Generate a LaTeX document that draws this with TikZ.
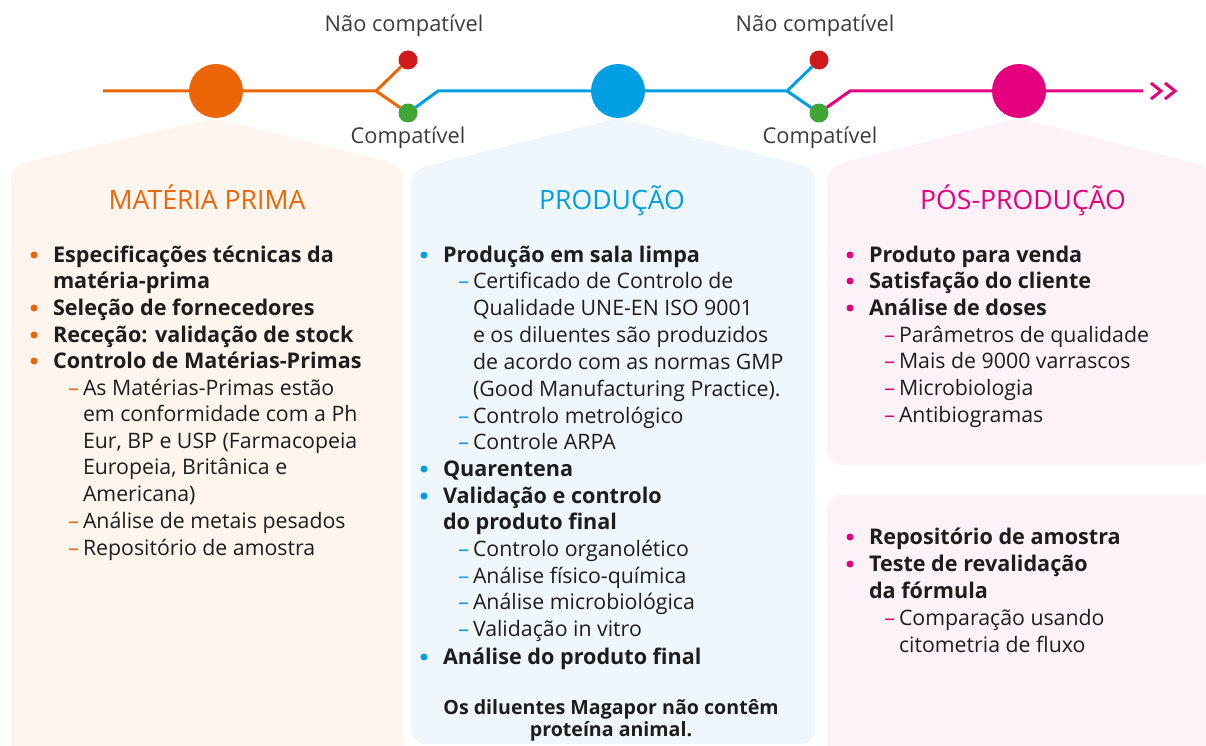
\documentclass[tikz,border=0pt]{standalone}
\usepackage{fontspec}
\setmainfont{Open Sans}
\definecolor{corange}{HTML}{EC6608}
\definecolor{cblue}{HTML}{009FE3}
\definecolor{cpink}{HTML}{E5007D}
\definecolor{cred}{HTML}{D0191C}
\definecolor{cgreen}{HTML}{3FA535}
\definecolor{forange}{HTML}{FEF5EF}
\definecolor{fblue}{HTML}{EFF7FC}
\definecolor{fpink}{HTML}{FDF2F8}
\definecolor{ctext}{HTML}{1D1D1B}
\definecolor{clabel}{HTML}{3C3C3B}
\newcommand\mitem[5]{%
  \node[bdot,fill=#4] (#1b) at (#2-19,#3-7) {};
  \node[mtxt] (#1) at (#2,#3) {#5};}
\newcommand\mcont[4]{\node[mtxt] (#1) at (#2,#3) {#4};}
\newcommand\sitem[5]{%
  \node[dtxt,text=#4] (#1d) at (#2-4,#3) {–};
  \node[stxt] (#1) at (#2,#3) {#5};}
\newcommand\scont[4]{\node[stxt] (#1) at (#2,#3) {#4};}
\begin{document}
\begin{tikzpicture}[x=1pt,y=-1pt,
  every node/.style={inner sep=0pt,outer sep=0pt},
  bdot/.style={circle,minimum size=7pt,draw=none},
  mtxt/.style={anchor=base west,text=ctext,font=\fontsize{21.6}{26}\selectfont\bfseries},
  stxt/.style={anchor=base west,text=ctext,font=\fontsize{21.3}{26}\selectfont},
  dtxt/.style={anchor=base east,font=\fontsize{21.3}{26}\selectfont},
  ttl/.style={anchor=base,font=\fontsize{26.6}{30}\selectfont},
  lbl/.style={anchor=base,text=clabel,font=\fontsize{21.8}{26}\selectfont},
  note/.style={anchor=base,text=ctext,font=\fontsize{19.6}{22}\selectfont\bfseries},
  bigdot/.style={circle,minimum size=54pt,draw=none},
  smalldot/.style={circle,minimum size=19pt,draw=none},
  tl/.style={line width=3pt},
]
\useasboundingbox (0,0) rectangle (1206,746);
\clip (0,0) rectangle (1206,746);
% panels
\fill[forange,rounded corners=14pt] (11,780) -- (11,165) -- (216,118) -- (403,165) -- (403,780) -- cycle;
\fill[fblue,rounded corners=14pt] (411,744) -- (411,170) -- (618,118) -- (815,168) -- (815,744) -- cycle;
\fill[fpink,rounded corners=14pt] (827,465) -- (827,167) -- (1019,118) -- (1211,167) -- (1211,465) -- cycle;
\fill[fpink,rounded corners=14pt] (827,780) -- (827,495) -- (1240,495) -- (1240,780) -- cycle;
% timeline nodes
\node[bigdot,fill=corange] (c1) at (216,91) {};
\node[bigdot,fill=cblue] (c2) at (618,91) {};
\node[bigdot,fill=cpink] (c3) at (1019,91) {};
\node[smalldot,fill=cred] (r1) at (408,60) {};
\node[smalldot,fill=cgreen] (g1) at (408,113) {};
\node[smalldot,fill=cred] (r2) at (819,60) {};
\node[smalldot,fill=cgreen] (g2) at (819,113) {};
\coordinate (s0) at (103,91);
\coordinate (k1) at (376,91);
\coordinate (j1) at (438,91);
\coordinate (k2) at (787,91);
\coordinate (j2) at (850,91);
\coordinate (e3) at (1143,91);
\draw[tl,corange] (s0) -- (c1) -- (k1) -- (r1);
\draw[tl,corange] (k1) -- (g1);
\draw[tl,cblue] (g1) -- (j1) -- (c2) -- (k2) -- (r2);
\draw[tl,cblue] (k2) -- (g2);
\draw[tl,cpink] (g2) -- (j2) -- (c3) -- (e3);
\coordinate (ca1) at (1151,83); \coordinate (cb1) at (1161,91); \coordinate (cc1) at (1151,99);
\coordinate (ca2) at (1165,83); \coordinate (cb2) at (1175,91); \coordinate (cc2) at (1165,99);
\draw[tl,cpink] (ca1) -- (cb1) -- (cc1);
\draw[tl,cpink] (ca2) -- (cb2) -- (cc2);
% labels
\node[lbl] (nc1) at (404,32) {Não compatível};
\node[lbl] (nc2) at (815,32) {Não compatível};
\node[lbl] (cp1) at (408,144) {Compatível};
\node[lbl] (cp2) at (820,144) {Compatível};
% titles
\node[ttl,text=corange] (t1) at (207,209) {MATÉRIA PRIMA};
\node[ttl,text=cblue] (t2) at (612,209) {PRODUÇÃO};
\node[ttl,text=cpink] (t3) at (1023,209) {PÓS-PRODUÇÃO};
% panel 1
\mitem{a1}{53}{262}{corange}{Especificações técnicas da}
\mcont{a2}{53}{288}{matéria-prima}
\mitem{a3}{53}{315}{corange}{Seleção de fornecedores}
\mitem{a4}{53}{342}{corange}{Receção: validação de stock}
\mitem{a5}{53}{368}{corange}{Controlo de Matérias-Primas}
\sitem{a6}{83}{395}{corange}{As Matérias-Primas estão}
\scont{a7}{83}{421}{em conformidade com a Ph}
\scont{a8}{83}{448}{Eur, BP e USP (Farmacopeia}
\scont{a9}{83}{474}{Europeia, Britânica e}
\scont{a10}{83}{501}{Americana)}
\sitem{a11}{83}{528}{corange}{Análise de metais pesados}
\sitem{a12}{83}{555}{corange}{Repositório de amostra}
% panel 2
\mitem{b1}{443}{262}{cblue}{Produção em sala limpa}
\sitem{b2}{473}{288}{cblue}{Certificado de Controlo de}
\scont{b3}{473}{315}{Qualidade UNE-EN ISO 9001}
\scont{b4}{473}{342}{e os diluentes são produzidos}
\scont{b5}{473}{369}{de acordo com as normas GMP}
\scont{b6}{473}{396}{(Good Manufacturing Practice).}
\sitem{b7}{473}{423}{cblue}{Controlo metrológico}
\sitem{b8}{473}{449}{cblue}{Controle ARPA}
\mitem{b9}{443}{476}{cblue}{Quarentena}
\mitem{b10}{443}{503}{cblue}{Validação e controlo}
\mcont{b11}{443}{529}{do produto final}
\sitem{b12}{473}{556}{cblue}{Controlo organolético}
\sitem{b13}{473}{583}{cblue}{Análise físico-química}
\sitem{b14}{473}{609}{cblue}{Análise microbiológica}
\sitem{b15}{473}{636}{cblue}{Validação in vitro}
\mitem{b16}{443}{664}{cblue}{Análise do produto final}
\node[note] (n1) at (611,714) {Os diluentes Magapor não contêm};
\node[note] (n2) at (611,736) {proteína animal.};
% panel 3
\mitem{p1}{869}{262}{cpink}{Produto para venda}
\mitem{p2}{869}{288}{cpink}{Satisfação do cliente}
\mitem{p3}{869}{315}{cpink}{Análise de doses}
\sitem{p4}{899}{342}{cpink}{Parâmetros de qualidade}
\sitem{p5}{899}{368}{cpink}{Mais de 9000 varrascos}
\sitem{p6}{899}{395}{cpink}{Microbiologia}
\sitem{p7}{899}{422}{cpink}{Antibiogramas}
% panel 4
\mitem{q1}{869}{544}{cpink}{Repositório de amostra}
\mitem{q2}{869}{571}{cpink}{Teste de revalidação}
\mcont{q3}{869}{598}{da fórmula}
\sitem{q4}{899}{625}{cpink}{Comparação usando}
\scont{q5}{899}{652}{citometria de fluxo}
\end{tikzpicture}
\end{document}
